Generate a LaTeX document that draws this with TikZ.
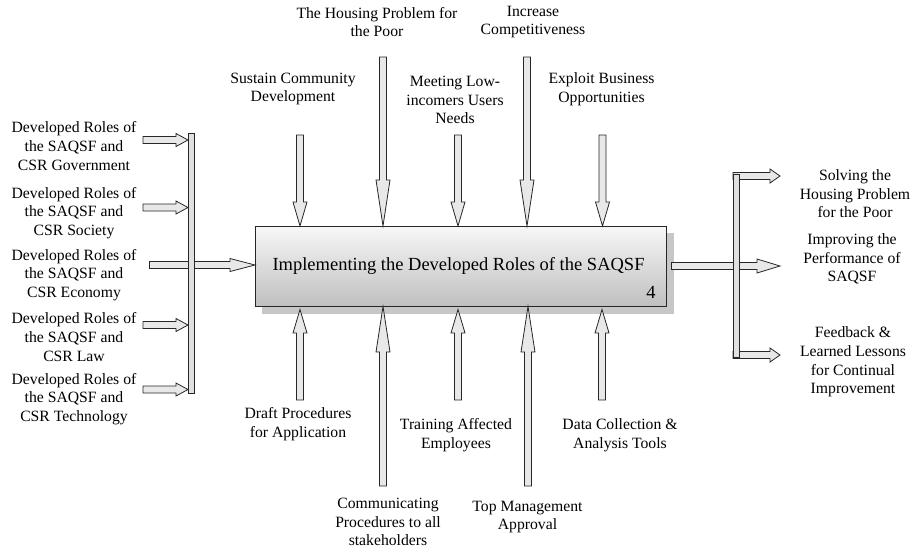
\documentclass[tikz,border=0pt]{standalone}
\usepackage{fontspec}
\setmainfont{Liberation Serif}
\begin{document}
\begin{tikzpicture}[x=1pt,y=-1pt,
  lbl/.style={align=center,inner sep=0pt,font=\fontsize{15.7}{18.6}\selectfont},
  blockarrow/.style={draw=black!85,fill=black!9,line width=0.8pt,line join=miter},
  barsty/.style={draw=black!85,fill=black!12,line width=0.8pt},
  mainbox/.style={draw=black!85,line width=0.9pt,top color=black!3,bottom color=black!25,
    minimum width=411.5pt,minimum height=80.5pt,inner sep=0pt,
    font=\fontsize{18.5}{22}\selectfont}]
\newcommand{\DArr}[4]{\filldraw[blockarrow] ({#1-3.5},#2) -- ({#1+3.5},#2) -- ({#1+3.5},#3) -- ({#1+7},#3) -- (#1,#4) -- ({#1-7},#3) -- ({#1-3.5},#3) -- cycle;}
\newcommand{\RArr}[5]{\filldraw[blockarrow] (#1,{#4-3.5}) -- (#2,{#4-3.5}) -- (#2,{#4-#5}) -- (#3,#4) -- (#2,{#4+#5}) -- (#2,{#4+3.5}) -- (#1,{#4+3.5}) -- cycle;}
\useasboundingbox (0,0) rectangle (917,550);
% shadow and main box
\fill[black!22] (262,233) rectangle (674,314);
\node[mainbox] (main) at (460.75,266.25) {};
\node[inner sep=0pt,font=\fontsize{18.5}{22}\selectfont] (title) at (458.5,266) {Implementing the Developed Roles of the SAQSF};
\node[inner sep=0pt,font=\fontsize{18.5}{22}\selectfont] (num) at (651,292) {4};
% top controls (down arrows)
\DArr{300}{135}{202}{226}
\DArr{383}{57}{180}{226}
\DArr{458}{135}{202}{226}
\DArr{527}{57}{180}{226}
\DArr{602.5}{135}{202}{226}
% bottom mechanisms (up arrows)
\DArr{300}{400}{333}{309.5}
\DArr{383}{486}{352}{306.5}
\DArr{458}{400}{333}{309.5}
\DArr{528}{486}{352}{306.5}
\DArr{602}{400}{333}{309.5}
% left inputs
\RArr{143}{176}{188}{140}{6.5}
\RArr{143}{176}{188}{207.5}{6.5}
\RArr{149.5}{230}{255}{265}{6.5}
\RArr{143}{176}{188}{325}{6.5}
\RArr{143}{176}{188}{389.5}{6.5}
\filldraw[barsty] (188,133) rectangle (194,393);
% right outputs
\RArr{733}{770}{780}{176}{7}
\RArr{671.5}{757}{780}{266}{7}
\RArr{733}{770}{780}{355}{7}
\filldraw[barsty] (733,174) rectangle (739.3,357);
% left labels
\node[lbl] (in1) at (74,146) {Developed Roles of\\the SAQSF and\\CSR Government};
\node[lbl] (in2) at (74,213) {Developed Roles of\\the SAQSF and\\CSR Society};
\node[lbl] (in3) at (74,275) {Developed Roles of\\the SAQSF and\\CSR Economy};
\node[lbl] (in4) at (74,337) {Developed Roles of\\the SAQSF and\\CSR Law};
\node[lbl] (in5) at (74,399) {Developed Roles of\\the SAQSF and\\CSR Technology};
% top labels
\node[lbl] (c1) at (293,89) {Sustain Community\\Development};
\node[lbl] (c2) at (377,22) {The Housing Problem for\\the Poor};
\node[lbl] (c3) at (455,100) {Meeting Low-\\incomers Users\\Needs};
\node[lbl] (c4) at (533,22) {Increase\\Competitiveness};
\node[lbl] (c5) at (601.5,89) {Exploit Business\\Opportunities};
% bottom labels
\node[lbl] (m1) at (298,424) {Draft Procedures\\for Application};
\node[lbl] (m2) at (388,522) {Communicating\\Procedures to all\\stakeholders};
\node[lbl] (m3) at (456,435) {Training Affected\\Employees};
\node[lbl] (m4) at (527.5,517) {Top Management\\Approval};
\node[lbl] (m5) at (620,435) {Data Collection \&\\Analysis Tools};
% right labels
\node[lbl] (o1) at (855,194) {Solving the\\Housing Problem\\for the Poor};
\node[lbl] (o2) at (852,259) {Improving the\\Performance of\\SAQSF};
\node[lbl] (o3) at (853,362) {Feedback \&\\Learned Lessons\\for Continual\\Improvement};
\end{tikzpicture}
\end{document}
